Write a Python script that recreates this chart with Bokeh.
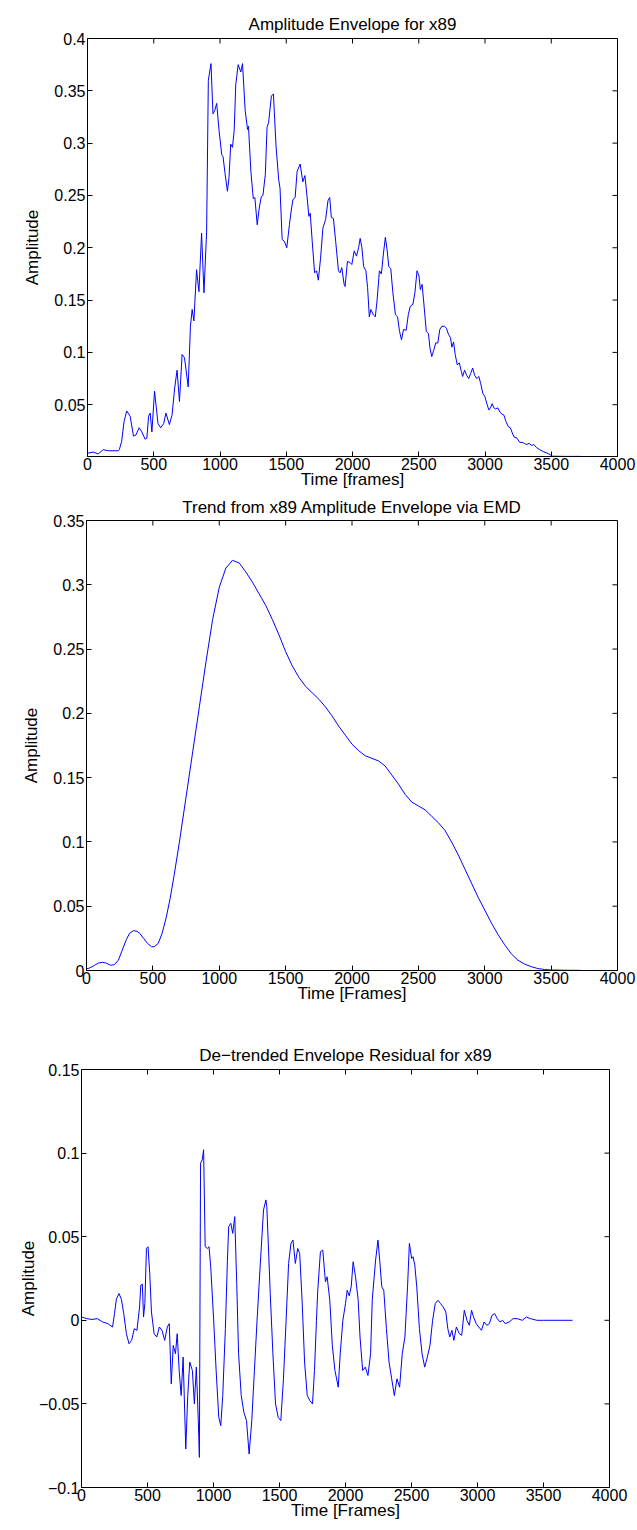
import math
from bokeh.plotting import figure
from bokeh.models import Range1d, LinearAxis, FixedTicker, CustomJSTickFormatter, ColumnDataSource
from bokeh.layouts import column
from bokeh.embed import file_html
from bokeh.resources import INLINE

# ---------------- data ----------------
x_ticks = [0, 500, 1000, 1500, 2000, 2500, 3000, 3500, 4000]

env_x = [0, 43, 81, 119, 157, 233, 240, 258, 276, 296, 322, 347, 365, 390, 410, 435, 448, 461, 473, 486,
         506, 532, 552, 575, 592, 618, 638, 658, 676, 694, 714, 732, 744, 760, 777, 790, 803, 823, 841, 861,
         879, 899, 912, 932, 947, 960, 975, 993, 1013, 1023, 1038, 1056, 1068, 1081, 1094, 1107, 1119, 1137,
         1157, 1170, 1190, 1208, 1215, 1233, 1251, 1263, 1281, 1296, 1312, 1324, 1342, 1355, 1367, 1388, 1403,
         1423, 1443, 1453, 1469, 1486, 1504, 1524, 1537, 1550, 1567, 1582, 1605, 1625, 1641, 1656, 1671, 1681,
         1696, 1714, 1729, 1742, 1759, 1777, 1797, 1815, 1828, 1840, 1856, 1873, 1894, 1906, 1919, 1937, 1944,
         1962, 1980, 1995, 2013, 2030, 2046, 2058, 2071, 2084, 2101, 2114, 2127, 2139, 2157, 2172, 2185, 2203,
         2218, 2233, 2248, 2261, 2274, 2289, 2304, 2324, 2340, 2355, 2370, 2385, 2405, 2421, 2436, 2456, 2471,
         2487, 2502, 2512, 2525, 2537, 2557, 2573, 2585, 2598, 2613, 2628, 2644, 2659, 2674, 2694, 2709, 2725,
         2740, 2750, 2763, 2775, 2791, 2806, 2821, 2831, 2846, 2862, 2877, 2892, 2907, 2922, 2938, 2953, 2968,
         2983, 2998, 3014, 3029, 3041, 3054, 3067, 3079, 3097, 3112, 3128, 3143, 3158, 3176, 3191, 3209, 3221,
         3242, 3262, 3280, 3297, 3313, 3333, 3353, 3368, 3389, 3414, 3444, 3482, 3508, 3596, 3723]
env_y = [0.0036, 0.0047, 0.003, 0.007, 0.006, 0.006, 0.007, 0.015, 0.034, 0.044, 0.039, 0.020, 0.021, 0.028,
         0.024, 0.017, 0.018, 0.039, 0.042, 0.024, 0.063, 0.032, 0.028, 0.032, 0.042, 0.031, 0.040, 0.066,
         0.083, 0.053, 0.098, 0.095, 0.083, 0.067, 0.125, 0.141, 0.130, 0.179, 0.158, 0.214, 0.157, 0.215,
         0.360, 0.376, 0.328, 0.331, 0.338, 0.312, 0.289, 0.287, 0.271, 0.254, 0.267, 0.299, 0.296, 0.312,
         0.356, 0.375, 0.368, 0.376, 0.331, 0.313, 0.316, 0.273, 0.247, 0.248, 0.222, 0.238, 0.249, 0.250,
         0.270, 0.315, 0.320, 0.345, 0.347, 0.297, 0.265, 0.257, 0.208, 0.206, 0.200, 0.222, 0.235, 0.246,
         0.248, 0.273, 0.280, 0.263, 0.269, 0.250, 0.230, 0.233, 0.206, 0.176, 0.178, 0.169, 0.190, 0.219,
         0.227, 0.245, 0.248, 0.229, 0.228, 0.206, 0.178, 0.176, 0.181, 0.165, 0.163, 0.187, 0.186, 0.184,
         0.197, 0.192, 0.200, 0.209, 0.200, 0.182, 0.178, 0.162, 0.134, 0.141, 0.136, 0.134, 0.149, 0.178,
         0.175, 0.194, 0.210, 0.198, 0.182, 0.180, 0.158, 0.136, 0.134, 0.120, 0.112, 0.122, 0.121, 0.136,
         0.144, 0.146, 0.157, 0.178, 0.173, 0.160, 0.165, 0.149, 0.120, 0.118, 0.104, 0.096, 0.102, 0.109,
         0.109, 0.122, 0.125, 0.125, 0.123, 0.117, 0.114, 0.105, 0.110, 0.098, 0.088, 0.090, 0.082, 0.077,
         0.083, 0.078, 0.075, 0.080, 0.085, 0.078, 0.075, 0.077, 0.070, 0.061, 0.058, 0.051, 0.045, 0.047,
         0.051, 0.047, 0.046, 0.047, 0.043, 0.041, 0.040, 0.034, 0.029, 0.028, 0.022, 0.019, 0.018, 0.014,
         0.014, 0.013, 0.012, 0.013, 0.011, 0.012, 0.009, 0.007, 0.005, 0.003, 0.0008, 0.0006, 0.0006]

trend_x = [0, 25, 60, 90, 120, 150, 180, 210, 240, 270, 300, 325, 355, 380, 400, 430, 460, 490, 510, 540,
           570, 600, 630, 660, 700, 750, 800, 850, 900, 950, 1000, 1050, 1100, 1150, 1200, 1250, 1300, 1350,
           1400, 1450, 1500, 1550, 1600, 1650, 1700, 1750, 1800, 1850, 1900, 1950, 2000, 2050, 2100, 2150,
           2200, 2250, 2300, 2350, 2400, 2450, 2500, 2550, 2600, 2650, 2700, 2750, 2800, 2850, 2900, 2950,
           3000, 3050, 3100, 3150, 3200, 3250, 3300, 3350, 3400, 3450, 3500, 3600, 3720]
trend_y = [0.0013, 0.002, 0.004, 0.0058, 0.0064, 0.0057, 0.0041, 0.0045, 0.008, 0.016, 0.024, 0.029,
           0.031, 0.0305, 0.029, 0.025, 0.021, 0.0185, 0.0185, 0.021, 0.029, 0.041, 0.056, 0.074, 0.100,
           0.135, 0.170, 0.205, 0.240, 0.273, 0.298, 0.313, 0.319, 0.317, 0.310, 0.302, 0.293, 0.284, 0.273,
           0.261, 0.248, 0.237, 0.228, 0.221, 0.216, 0.211, 0.205, 0.198, 0.190, 0.183, 0.176, 0.171, 0.167,
           0.165, 0.163, 0.159, 0.152, 0.145, 0.137, 0.131, 0.128, 0.125, 0.120, 0.115, 0.109, 0.100, 0.090,
           0.079, 0.068, 0.057, 0.047, 0.037, 0.028, 0.020, 0.013, 0.008, 0.005, 0.003, 0.0015, 0.0008,
           0.0004, 0.0002, 0.0001]

res_x = [0, 40, 80, 120, 160, 200, 235, 250, 264, 284, 302, 320, 340, 360, 380, 400, 420, 440, 449, 461,
         470, 480, 492, 504, 517, 530, 550, 570, 590, 610, 630, 650, 665, 680, 695, 712, 725, 740, 755, 770,
         790, 805, 820, 840, 855, 870, 885, 893, 902, 915, 925, 937, 953, 966, 979, 1000, 1020, 1040, 1055,
         1070, 1090, 1105, 1115, 1131, 1146, 1161, 1176, 1190, 1210, 1230, 1250, 1270, 1290, 1310, 1330, 1354,
         1379, 1397, 1404, 1430, 1450, 1470, 1490, 1510, 1530, 1550, 1569, 1587, 1602, 1620, 1638, 1653, 1671,
         1690, 1710, 1730, 1750, 1765, 1780, 1790, 1810, 1828, 1848, 1861, 1881, 1900, 1920, 1945, 1960, 1980,
         2000, 2013, 2028, 2043, 2058, 2076, 2096, 2110, 2130, 2150, 2170, 2190, 2203, 2228, 2246, 2260, 2275,
         2290, 2310, 2330, 2350, 2370, 2390, 2410, 2430, 2450, 2470, 2484, 2501, 2512, 2525, 2540, 2560, 2580,
         2600, 2620, 2640, 2660, 2680, 2700, 2720, 2740, 2760, 2775, 2790, 2806, 2821, 2840, 2862, 2880, 2900,
         2920, 2938, 2955, 2970, 2990, 3010, 3030, 3050, 3070, 3090, 3110, 3130, 3150, 3170, 3190, 3210, 3240,
         3270, 3300, 3340, 3370, 3400, 3450, 3500, 3720]
res_y = [0.002, 0.001, 0.0005, 0.001, -0.001, -0.002, -0.004, 0.004, 0.0126, 0.016, 0.0126, 0.004, -0.008,
         -0.014, -0.012, -0.005, -0.006, 0.008, 0.021, 0.0216, 0.002, 0.01, 0.043, 0.044, 0.028, 0.005,
         -0.008, -0.01, -0.004, -0.006, -0.012, -0.004, -0.002, -0.038, -0.015, -0.02, -0.008, -0.03, -0.045,
         -0.022, -0.077, -0.045, -0.025, -0.03, -0.05, -0.028, -0.06, -0.082, 0.094, 0.096, 0.102, 0.044,
         0.043, 0.044, 0.032, 0.002, -0.03, -0.058, -0.063, -0.045, -0.005, 0.035, 0.056, 0.058, 0.052, 0.062,
         0.022, -0.02, -0.045, -0.055, -0.06, -0.08, -0.06, -0.03, 0.0, 0.033, 0.066, 0.072, 0.068, 0.016,
         -0.02, -0.05, -0.058, -0.06, -0.035, 0.0, 0.034, 0.046, 0.048, 0.034, 0.043, 0.040, 0.012, -0.025,
         -0.045, -0.048, -0.05, -0.03, 0.0, 0.018, 0.041, 0.042, 0.023, 0.026, 0.012, -0.015, -0.03, -0.04,
         -0.02, 0.0, 0.01, 0.018, 0.0146, 0.020, 0.035, 0.026, 0.012, -0.01, -0.03, -0.028, -0.033, -0.02,
         0.0126, 0.036, 0.048, 0.035, 0.02, 0.018, -0.005, -0.025, -0.035, -0.045, -0.035, -0.04, -0.02,
         -0.01, 0.02, 0.046, 0.037, 0.038, 0.033, 0.02, -0.005, -0.02, -0.028, -0.022, -0.015, 0.0, 0.01,
         0.012, 0.01, 0.008, 0.005, -0.005, -0.01, -0.006, -0.012, -0.004, -0.008, -0.009, 0.006, 0.0,
         -0.003, 0.006, 0.002, -0.002, -0.004, -0.006, -0.001, -0.003, -0.002, 0.003, 0.004, 0.001, -0.001,
         0.0, -0.002, -0.001, 0.001, 0.001, 0.0, 0.002, 0.001, 0.0, 0.0, 0.0]

y1_ticks = [0.05, 0.1, 0.15, 0.2, 0.25, 0.3, 0.35, 0.4]
y2_ticks = [0, 0.05, 0.1, 0.15, 0.2, 0.25, 0.3, 0.35]
y3_ticks = [-0.1, -0.05, 0, 0.05, 0.1, 0.15]

titles = ["Amplitude Envelope for x89",
          "Trend from x89 Amplitude Envelope via EMD",
          "De\u2212trended Envelope Residual for x89"]
xlabels = ["Time [frames]", "Time [Frames]", "Time [Frames]"]
ylabel = "Amplitude"

# ---------------- styling ----------------
FONT = "Liberation Sans"
TICK_FS = "16px"
LBL_FS = "17px"
TITLE_FS = "17px"
LINE_COLOR = "#0000ff"
TICK_LEN = 5

fmt_code = """
var v = Math.round(tick * 10000) / 10000;
var s = String(v);
return s.replace('-', '\u2212');
"""


def style_axis(ax, ticks):
    ax.ticker = FixedTicker(ticks=ticks)
    ax.formatter = CustomJSTickFormatter(code=fmt_code)
    ax.major_tick_in = TICK_LEN
    ax.major_tick_out = 0
    ax.minor_tick_line_color = None
    ax.axis_line_color = "black"
    ax.axis_line_width = 1
    ax.major_tick_line_color = "black"
    ax.major_label_text_font = FONT
    ax.major_label_text_color = "black"
    ax.major_label_text_font_size = TICK_FS
    ax.axis_label_text_font = FONT
    ax.axis_label_text_font_style = "normal"
    ax.axis_label_text_font_size = LBL_FS
    ax.axis_label_text_color = "black"


def make_panel(title, xlabel, xs, ys, yr, yticks, height, borders, ylab_standoff, title_standoff):
    left, right, top, bottom = borders
    p = figure(width=637, height=height, output_backend="svg", toolbar_location=None,
               x_range=Range1d(0, 4000), y_range=Range1d(*yr),
               x_axis_type=None, y_axis_type=None,
               min_border_left=left, min_border_right=right,
               min_border_top=top, min_border_bottom=bottom)
    p.frame_align = False
    p.outline_line_color = "black"
    p.background_fill_color = "white"
    p.border_fill_color = "white"
    p.title.text = title
    p.title.align = "center"
    p.title.text_font = FONT
    p.title.text_font_size = TITLE_FS
    p.title.text_font_style = "normal"
    p.title.text_color = "black"
    p.title.standoff = title_standoff

    xb = LinearAxis(axis_label=xlabel)
    style_axis(xb, x_ticks)
    xb.major_label_standoff = 1
    xb.axis_label_standoff = -3
    p.add_layout(xb, "below")

    yl = LinearAxis(axis_label=ylabel)
    style_axis(yl, yticks)
    yl.major_label_standoff = 2
    yl.axis_label_standoff = ylab_standoff
    p.add_layout(yl, "left")

    # inward tick marks on the top and right edges of the box (MATLAB style)
    p.ray(x=x_ticks, y=[yr[1]] * len(x_ticks), length=TICK_LEN, length_units="screen",
          angle=-math.pi / 2, line_color="black", line_width=1)
    p.ray(x=[4000] * len(yticks), y=yticks, length=TICK_LEN, length_units="screen",
          angle=math.pi, line_color="black", line_width=1)

    src = ColumnDataSource(data=dict(x=xs, y=ys))
    p.line("x", "y", source=src, line_color=LINE_COLOR, line_width=1)
    return p


p1 = make_panel(titles[0], xlabels[0], env_x, env_y, (0.0005, 0.4), y1_ticks,
                491, (87, 20, 38, 35), 9, 9)
p2 = make_panel(titles[1], xlabels[1], trend_x, trend_y, (0, 0.35), y2_ticks,
                514, (86, 20, 28, 35), 9, 8)
p3 = make_panel(titles[2], xlabels[2], res_x, res_y, (-0.1, 0.15), y3_ticks,
                525, (81, 28, 64, 43), -2, 9)

layout = column(p1, p2, p3, spacing=0)
open("out.html", "w").write(file_html(layout, INLINE))
